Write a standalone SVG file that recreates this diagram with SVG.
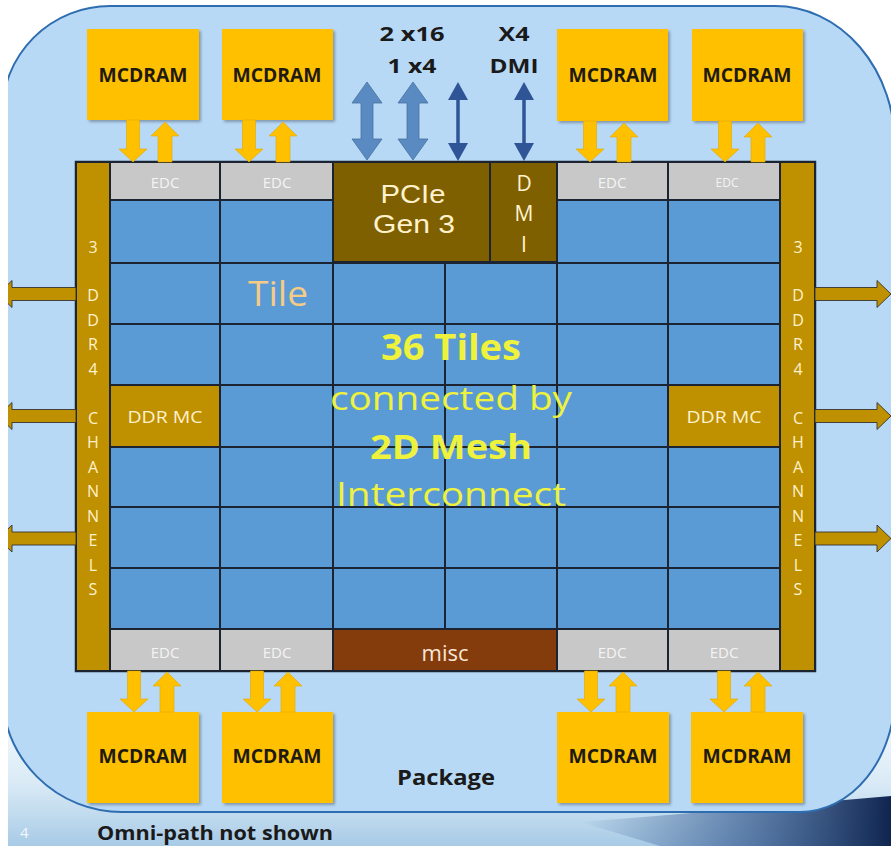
<svg xmlns="http://www.w3.org/2000/svg" width="891" height="846" viewBox="0 0 891 846">
<style>
.mc{fill:#FFC000}
.mct{font-family:"Open Sans","Liberation Sans",Arial,sans-serif;font-weight:bold;font-size:19px;fill:#1E1A10;text-anchor:middle}
.edc{fill:#C8C8C8;stroke:#1B2430;stroke-width:2}
.edct{font-family:"Open Sans","Liberation Sans",Arial,sans-serif;font-size:15px;fill:#F4F4F4;text-anchor:middle}
.tile{fill:#5B9BD5;stroke:#1B2430;stroke-width:2}
.gold{fill:#BF9000;stroke:#1B2430;stroke-width:2}
.dark{fill:#7F6000;stroke:#1B2430;stroke-width:2}
.cream{font-family:"Open Sans","Liberation Sans",Arial,sans-serif;fill:#FFF2CC;text-anchor:middle}
.pci{font-family:"Liberation Sans",Arial,sans-serif;font-size:26px;fill:#FFF2CC;text-anchor:middle}
.vt{font-family:"Open Sans","Liberation Sans",Arial,sans-serif;font-size:16px;fill:#FFF2CC;text-anchor:middle}
.ya{fill:#FFC000;stroke:#E0A800;stroke-width:0.6}
.ba{fill:#5A8AC2;stroke:#46729F;stroke-width:0.8}
.tb{fill:#2F5597}
.sa{fill:#BF9000;stroke:#333;stroke-width:0.9}
.lbl{font-family:"Open Sans","Liberation Sans",Arial,sans-serif;font-weight:bold;fill:#1A1A1A;text-anchor:middle}
.big{font-family:"Open Sans","Liberation Sans",Arial,sans-serif;fill:#EEF23C;text-anchor:middle}
</style>
<defs>
<linearGradient id="sea" x1="0" y1="0" x2="0" y2="1">
<stop offset="0" stop-color="#FFFFFF"/>
<stop offset="0.6" stop-color="#D9EAF6"/>
<stop offset="1" stop-color="#A8CBE6"/>
</linearGradient>
<linearGradient id="navy" x1="0" y1="0" x2="1" y2="0">
<stop offset="0" stop-color="#2A4F86" stop-opacity="0"/>
<stop offset="0.5" stop-color="#2A4F86" stop-opacity="0.6"/>
<stop offset="1" stop-color="#0F2550"/>
</linearGradient>
<filter id="sh" x="-10%" y="-10%" width="130%" height="130%">
<feDropShadow dx="2" dy="2" stdDeviation="1.5" flood-color="#000" flood-opacity="0.3"/>
</filter>
</defs>

<rect x="0" y="0" width="891" height="846" fill="#FFFFFF"/>
<rect x="8" y="690" width="883" height="156" fill="url(#sea)"/>
<path d="M580,822 Q730,810 891,796 L891,846 L660,846 Q620,834 580,822 Z" fill="url(#navy)"/>

<g id="package">
<path d="M2,114 A108,108 0 0 1 110,6 H775 A120,140 0 0 1 895,146 V693 A95,119 0 0 1 800,812 H122 A120,120 0 0 1 2,692 Z" fill="#B8D9F6" stroke="#2E6DB0" stroke-width="2"/>
<text class="lbl" x="446" y="785" font-size="22" textLength="98" lengthAdjust="spacingAndGlyphs">Package</text>
</g>

<g id="chip">
<rect x="76" y="162" width="739" height="509" fill="#5B9BD5" stroke="#1B2430" stroke-width="2.5"/>
<g id="tiles">
<rect class="tile" x="110" y="200" width="110" height="63"/>
<rect class="tile" x="220" y="200" width="113" height="63"/>
<rect class="tile" x="557" y="200" width="111" height="63"/>
<rect class="tile" x="668" y="200" width="112" height="63"/>
<rect class="tile" x="110" y="263" width="110" height="61"/>
<rect class="tile" x="220" y="263" width="113" height="61"/>
<rect class="tile" x="333" y="263" width="112" height="61"/>
<rect class="tile" x="445" y="263" width="112" height="61"/>
<rect class="tile" x="557" y="263" width="111" height="61"/>
<rect class="tile" x="668" y="263" width="112" height="61"/>
<rect class="tile" x="110" y="324" width="110" height="61"/>
<rect class="tile" x="220" y="324" width="113" height="61"/>
<rect class="tile" x="333" y="324" width="112" height="61"/>
<rect class="tile" x="445" y="324" width="112" height="61"/>
<rect class="tile" x="557" y="324" width="111" height="61"/>
<rect class="tile" x="668" y="324" width="112" height="61"/>
<rect class="tile" x="220" y="385" width="113" height="62"/>
<rect class="tile" x="333" y="385" width="112" height="62"/>
<rect class="tile" x="445" y="385" width="112" height="62"/>
<rect class="tile" x="557" y="385" width="111" height="62"/>
<rect class="tile" x="110" y="447" width="110" height="60"/>
<rect class="tile" x="220" y="447" width="113" height="60"/>
<rect class="tile" x="333" y="447" width="112" height="60"/>
<rect class="tile" x="445" y="447" width="112" height="60"/>
<rect class="tile" x="557" y="447" width="111" height="60"/>
<rect class="tile" x="668" y="447" width="112" height="60"/>
<rect class="tile" x="110" y="507" width="110" height="61"/>
<rect class="tile" x="220" y="507" width="113" height="61"/>
<rect class="tile" x="333" y="507" width="112" height="61"/>
<rect class="tile" x="445" y="507" width="112" height="61"/>
<rect class="tile" x="557" y="507" width="111" height="61"/>
<rect class="tile" x="668" y="507" width="112" height="61"/>
<rect class="tile" x="110" y="568" width="110" height="61"/>
<rect class="tile" x="220" y="568" width="113" height="61"/>
<rect class="tile" x="333" y="568" width="112" height="61"/>
<rect class="tile" x="445" y="568" width="112" height="61"/>
<rect class="tile" x="557" y="568" width="111" height="61"/>
<rect class="tile" x="668" y="568" width="112" height="61"/>
</g>
<text x="278" y="306" font-family="Open Sans,Liberation Sans,Arial,sans-serif" font-size="35" fill="#F5CB85" text-anchor="middle" textLength="60" lengthAdjust="spacingAndGlyphs">Tile</text>
<g id="mesh-label">
<text class="big" x="451" y="360" font-size="36" font-weight="bold" textLength="140" lengthAdjust="spacingAndGlyphs">36 Tiles</text>
<text class="big" x="451" y="410" font-size="33" textLength="242" lengthAdjust="spacingAndGlyphs">connected by</text>
<text class="big" x="451" y="459" font-size="34" font-weight="bold" textLength="162" lengthAdjust="spacingAndGlyphs">2D Mesh</text>
<text class="big" x="451" y="506" font-size="33" textLength="230" lengthAdjust="spacingAndGlyphs">Interconnect</text>
</g>
</g>

<g id="ddr-left">
<rect class="gold" x="76" y="162" width="34" height="509"/>
<text class="vt"><tspan x="93" y="253">3</tspan><tspan x="93" y="301">D</tspan><tspan x="93" y="326">D</tspan><tspan x="93" y="350">R</tspan><tspan x="93" y="375">4</tspan><tspan x="93" y="424">C</tspan><tspan x="93" y="448">H</tspan><tspan x="93" y="473">A</tspan><tspan x="93" y="497">N</tspan><tspan x="93" y="522">N</tspan><tspan x="93" y="546">E</tspan><tspan x="93" y="571">L</tspan><tspan x="93" y="595">S</tspan></text>
</g>
<g id="ddr-right">
<rect class="gold" x="780" y="162" width="35" height="509"/>
<text class="vt"><tspan x="798" y="253">3</tspan><tspan x="798" y="301">D</tspan><tspan x="798" y="326">D</tspan><tspan x="798" y="350">R</tspan><tspan x="798" y="375">4</tspan><tspan x="798" y="424">C</tspan><tspan x="798" y="448">H</tspan><tspan x="798" y="473">A</tspan><tspan x="798" y="497">N</tspan><tspan x="798" y="522">N</tspan><tspan x="798" y="546">E</tspan><tspan x="798" y="571">L</tspan><tspan x="798" y="595">S</tspan></text>
</g>
<g id="ddrmc-left">
<rect class="gold" x="110" y="385" width="110" height="62"/>
<text class="cream" x="165" y="423" font-size="17" textLength="75" lengthAdjust="spacingAndGlyphs">DDR MC</text>
</g>
<g id="ddrmc-right">
<rect class="gold" x="668" y="385" width="112" height="62"/>
<text class="cream" x="724" y="423" font-size="17" textLength="75" lengthAdjust="spacingAndGlyphs">DDR MC</text>
</g>
<g id="pcie">
<rect class="dark" x="333" y="162" width="157" height="100"/>
<text class="pci" x="413" y="203" textLength="65" lengthAdjust="spacingAndGlyphs">PCIe</text>
<text class="pci" x="414" y="233" textLength="82" lengthAdjust="spacingAndGlyphs">Gen 3</text>
</g>
<g id="dmi">
<rect class="dark" x="490" y="162" width="67" height="100"/>
<text class="cream" font-size="21"><tspan x="524" y="191">D</tspan><tspan x="524" y="221">M</tspan><tspan x="524" y="252">I</tspan></text>
</g>
<g id="misc">
<rect x="333" y="629" width="224" height="42" fill="#843C0C" stroke="#1B2430" stroke-width="2"/>
<text x="445" y="661" font-family="Open Sans,Liberation Sans,Arial,sans-serif" font-size="22" fill="#FBE5D6" text-anchor="middle">misc</text>
</g>

<g id="edc-top">
<rect class="edc" x="110" y="162" width="110" height="38"/><text class="edct" x="165" y="188">EDC</text>
<rect class="edc" x="220" y="162" width="113" height="38"/><text class="edct" x="277" y="188">EDC</text>
<rect class="edc" x="557" y="162" width="111" height="38"/><text class="edct" x="612" y="188">EDC</text>
<rect class="edc" x="668" y="162" width="112" height="38"/><text class="edct" x="727" y="187" style="font-size:12px">EDC</text>
</g>
<g id="edc-bottom">
<rect class="edc" x="110" y="629" width="110" height="42"/><text class="edct" x="165" y="658">EDC</text>
<rect class="edc" x="220" y="629" width="113" height="42"/><text class="edct" x="277" y="658">EDC</text>
<rect class="edc" x="557" y="629" width="111" height="42"/><text class="edct" x="612" y="658">EDC</text>
<rect class="edc" x="668" y="629" width="112" height="42"/><text class="edct" x="724" y="658">EDC</text>
</g>

<g id="mcdram-top-1"><rect class="mc" x="87" y="29" width="112" height="91" filter="url(#sh)"/><text class="mct" x="143" y="82" textLength="89" lengthAdjust="spacingAndGlyphs">MCDRAM</text></g>
<g id="mcdram-top-2"><rect class="mc" x="222" y="29" width="111" height="91" filter="url(#sh)"/><text class="mct" x="277" y="82" textLength="89" lengthAdjust="spacingAndGlyphs">MCDRAM</text></g>
<g id="mcdram-top-3"><rect class="mc" x="557" y="29" width="111" height="92" filter="url(#sh)"/><text class="mct" x="613" y="82" textLength="89" lengthAdjust="spacingAndGlyphs">MCDRAM</text></g>
<g id="mcdram-top-4"><rect class="mc" x="692" y="29" width="111" height="92" filter="url(#sh)"/><text class="mct" x="747" y="82" textLength="89" lengthAdjust="spacingAndGlyphs">MCDRAM</text></g>
<g id="mcdram-bot-1"><rect class="mc" x="87" y="712" width="112" height="91" filter="url(#sh)"/><text class="mct" x="143" y="763" textLength="89" lengthAdjust="spacingAndGlyphs">MCDRAM</text></g>
<g id="mcdram-bot-2"><rect class="mc" x="222" y="712" width="111" height="91" filter="url(#sh)"/><text class="mct" x="277" y="763" textLength="89" lengthAdjust="spacingAndGlyphs">MCDRAM</text></g>
<g id="mcdram-bot-3"><rect class="mc" x="557" y="712" width="112" height="91" filter="url(#sh)"/><text class="mct" x="613" y="763" textLength="89" lengthAdjust="spacingAndGlyphs">MCDRAM</text></g>
<g id="mcdram-bot-4"><rect class="mc" x="691" y="712" width="112" height="91" filter="url(#sh)"/><text class="mct" x="747" y="763" textLength="89" lengthAdjust="spacingAndGlyphs">MCDRAM</text></g>

<g id="io-labels">
<text class="lbl" x="412" y="41" font-size="20" textLength="65" lengthAdjust="spacingAndGlyphs">2 x16</text>
<text class="lbl" x="412" y="73" font-size="20" textLength="49" lengthAdjust="spacingAndGlyphs">1 x4</text>
<text class="lbl" x="514" y="41" font-size="20" textLength="31" lengthAdjust="spacingAndGlyphs">X4</text>
<text class="lbl" x="514" y="73" font-size="20" textLength="49" lengthAdjust="spacingAndGlyphs">DMI</text>
</g>

<g id="connectors">
<polygon class="ya" points="126.5,120 139.5,120 139.5,149 147,149 133,162 119,149 126.5,149"/>
<polygon class="ya" points="242.5,120 255.5,120 255.5,149 263,149 249,162 235,149 242.5,149"/>
<polygon class="ya" points="583.5,121 596.5,121 596.5,149 604,149 590,162 576,149 583.5,149"/>
<polygon class="ya" points="718.5,121 731.5,121 731.5,149 739,149 725,162 711,149 718.5,149"/>
<polygon class="ya" points="165,122 179,136 172,136 172,162 158,162 158,136 151,136"/>
<polygon class="ya" points="283,122 297,136 290,136 290,162 276,162 276,136 269,136"/>
<polygon class="ya" points="624,123 638,137 631,137 631,162 617,162 617,137 610,137"/>
<polygon class="ya" points="758,123 772,137 765,137 765,162 751,162 751,137 744,137"/>
<polygon class="ya" points="127.5,671 140.5,671 140.5,699 148,699 134,712 120,699 127.5,699"/>
<polygon class="ya" points="250.5,671 263.5,671 263.5,699 271,699 257,712 243,699 250.5,699"/>
<polygon class="ya" points="584.5,671 597.5,671 597.5,699 605,699 591,712 577,699 584.5,699"/>
<polygon class="ya" points="717.5,671 730.5,671 730.5,699 738,699 724,712 710,699 717.5,699"/>
<polygon class="ya" points="167,672 181,686 174,686 174,712 160,712 160,686 153,686"/>
<polygon class="ya" points="288,672 302,686 295,686 295,712 281,712 281,686 274,686"/>
<polygon class="ya" points="623,672 637,686 630,686 630,712 616,712 616,686 609,686"/>
<polygon class="ya" points="758,672 772,686 765,686 765,712 751,712 751,686 744,686"/>
<polygon class="ba" points="367,82 382,103 373,103 373,139 382,139 367,160 352,139 361,139 361,103 352,103"/>
<polygon class="ba" points="413,82 428,103 419,103 419,139 428,139 413,160 398,139 407,139 407,103 398,103"/>
<line x1="458" y1="98" x2="458" y2="144" stroke="#2F5597" stroke-width="3.5"/>
<polygon class="tb" points="458,82 468,100 448,100"/>
<polygon class="tb" points="458,161 468,143 448,143"/>
<line x1="524" y1="98" x2="524" y2="144" stroke="#2F5597" stroke-width="3.5"/>
<polygon class="tb" points="524,82 534,100 514,100"/>
<polygon class="tb" points="524,161 534,143 514,143"/>
<polygon class="sa" points="815,287.5 877,287.5 877,280.5 891,294 877,307.5 877,300.5 815,300.5"/>
<polygon class="sa" points="815,409.5 877,409.5 877,402.5 891,416 877,429.5 877,422.5 815,422.5"/>
<polygon class="sa" points="815,532 877,532 877,525 891,538.5 877,552 877,545 815,545"/>
<polygon class="sa" points="76,287.5 12,287.5 12,280.5 -2,294 12,307.5 12,300.5 76,300.5"/>
<polygon class="sa" points="76,409.5 12,409.5 12,402.5 -2,416 12,429.5 12,422.5 76,422.5"/>
<polygon class="sa" points="76,532 12,532 12,525 -2,538.5 12,552 12,545 76,545"/>
</g>

<rect x="0" y="0" width="8" height="846" fill="#FFFFFF"/>
<text class="lbl" x="215" y="840" font-size="20" textLength="236" lengthAdjust="spacingAndGlyphs">Omni-path not shown</text>
<text x="20" y="838" font-family="Open Sans,Liberation Sans,Arial,sans-serif" font-size="15" fill="#FFFFFF" fill-opacity="0.85">4</text>
</svg>
